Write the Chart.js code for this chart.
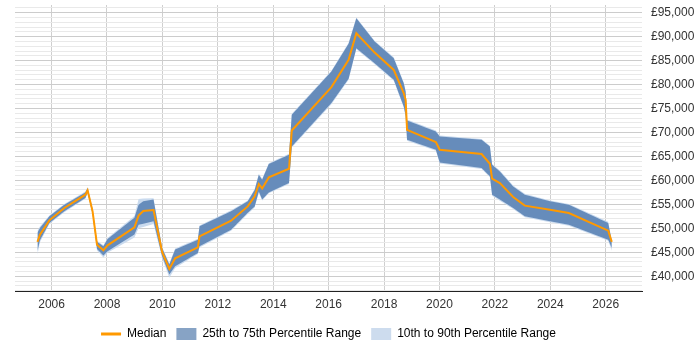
<!DOCTYPE html>
<html>
<head>
<meta charset="utf-8">
<script src="https://cdn.jsdelivr.net/npm/chart.js@4/dist/chart.umd.min.js"></script>
<style>
  html, body { margin: 0; padding: 0; background: #fff; }
  #wrap { width: 700px; height: 350px; }
</style>
</head>
<body>
<div id="wrap"><canvas id="chart"></canvas></div>
<script>
// decimal years of each sample
const years = [
  2005.49, 2005.58, 2005.92, 2006.46, 2007.22, 2007.30, 2007.48, 2007.64, 2007.87, 2008.02,
  2008.99, 2009.14, 2009.31, 2009.68, 2009.99, 2010.25, 2010.46, 2011.28, 2011.34, 2012.48,
  2013.08, 2013.33, 2013.48, 2013.60, 2013.84, 2014.57, 2014.67, 2016.10, 2016.72, 2017.00,
  2017.66, 2018.35, 2018.71, 2018.78, 2018.83, 2019.87, 2020.01, 2021.52, 2021.82, 2021.90,
  2022.18, 2022.66, 2023.08, 2023.99, 2024.67, 2026.09, 2026.22,
];
const median = [
  47170, 48690, 51670, 54250, 57020, 57920, 53540, 46600, 45420, 46460,
  50210, 52650, 53620, 53830, 45080, 41540, 43750, 46040, 48330, 51600,
  54580, 56670, 59250, 58330, 60630, 62440, 70420, 79460, 85150, 90710,
  86670, 83060, 78210, 76810, 70560, 68000, 66400, 65500, 63480, 60350,
  59460, 56540, 54730, 53900, 53200, 49520, 47170,
];
const p75 = [
  49100, 50080, 52500, 54940, 57500, 58400, 54000, 47200, 46250, 47790,
  52190, 54940, 55630, 56000, 45900, 42440, 45560, 47640, 50420, 53550,
  55630, 58020, 61190, 60150, 63420, 65350, 73690, 82710, 88500, 93830,
  88960, 85500, 80290, 78500, 72500, 70210, 69170, 68480, 67080, 63270,
  61880, 58750, 57020, 55630, 54940, 51125, 47290,
];
const p25 = [
  45200, 47500, 51125, 53550, 56330, 57500, 53000, 45700, 44310, 45200,
  48690, 50770, 50980, 51460, 44170, 40350, 42080, 44870, 46250, 49730,
  53230, 54580, 57710, 56000, 57500, 59460, 67080, 76130, 81200, 87580,
  84440, 80980, 75420, 73500, 68480, 66400, 63750, 62580, 60850, 57020,
  56000, 54250, 52500, 51460, 50770, 47640, 45900,
];
const p90 = [
  49500, 50400, 52700, 55100, 57700, 58600, 54200, 47400, 46450, 48000,
  52600, 56100, 56200, 56300, 46100, 42700, 45800, 47850, 50600, 53750,
  55830, 58220, 61400, 60350, 63600, 65550, 73900, 82900, 88700, 94000,
  89150, 85700, 80500, 78700, 72700, 70400, 69350, 68650, 67250, 63450,
  62050, 58950, 57200, 55800, 55100, 51350, 47500,
];
const p10 = [
  44500, 47100, 50900, 53350, 56150, 57300, 52800, 45400, 43900, 44900,
  48100, 50000, 50300, 50900, 43800, 39700, 41700, 44650, 46000, 49500,
  53000, 54350, 57500, 55800, 57300, 59250, 66850, 75900, 81000, 87350,
  84250, 80780, 75200, 73300, 68280, 66200, 63550, 62380, 60650, 56800,
  55780, 54050, 52300, 51260, 50550, 47400, 45300,
];
const xTickYears = [2006, 2008, 2010, 2012, 2014, 2016, 2018, 2020, 2022, 2024, 2026];
const legendNames = ["Median", "25th to 75th Percentile Range", "10th to 90th Percentile Range"];

const ORANGE = "#ff9900";
const BAND_DARK = "rgba(78,120,174,0.8)";
const BAND_LIGHT = "#c9daee";
const SWATCH_DARK = "#87a3c5";
const SWATCH_LIGHT = "#cddcee";

function points(values) {
  return years.map((x, i) => ({ x, y: values[i] }));
}

function band(values, color, fill) {
  return {
    data: points(values),
    backgroundColor: color,
    borderWidth: 0,
    pointRadius: 0,
    fill,
    tension: 0,
  };
}

// centre the legend under the plot area rather than the whole canvas
const legendUnderPlot = {
  id: "legendUnderPlot",
  afterLayout(chart) {
    if (chart.legend) {
      chart.legend.left = chart.chartArea.left;
      chart.legend.right = chart.chartArea.right;
    }
  },
};

Chart.defaults.font.family = "'Liberation Sans', Arial, sans-serif";
Chart.defaults.font.size = 12;
Chart.defaults.color = "#333";

new Chart(document.getElementById("chart"), {
  type: "line",
  data: {
    datasets: [
      { data: points(median), borderColor: ORANGE, borderWidth: 2, pointRadius: 0, fill: false, tension: 0 },
      band(p75, BAND_DARK, "+1"),
      band(p25, BAND_DARK, false),
      band(p90, BAND_LIGHT, "+1"),
      band(p10, BAND_LIGHT, false),
    ],
  },
  options: {
    responsive: true,
    maintainAspectRatio: false,
    animation: false,
    layout: { padding: { left: 15, right: 0, top: 5, bottom: 0 } },
    scales: {
      x: {
        type: "linear",
        min: 2004.68,
        max: 2027.31,
        afterBuildTicks(scale) {
          scale.ticks = xTickYears.map((value) => ({ value }));
        },
        grid: { color: "#cfcfcf", drawTicks: false },
        border: { color: "#222", width: 1 },
        ticks: { padding: 6, autoSkip: false, maxRotation: 0, callback: (v) => String(v) },
      },
      y: {
        position: "right",
        min: 36800,
        max: 96600,
        afterBuildTicks(scale) {
          const ticks = [];
          for (let v = 37000; v <= 96000; v += 1000) {
            ticks.push({ value: v });
          }
          scale.ticks = ticks;
        },
        afterFit(scale) {
          scale.width = 58;
          scale.paddingTop = 0;
          scale.paddingBottom = 0;
        },
        grid: {
          drawTicks: false,
          color: (ctx) => (ctx.tick && ctx.tick.value % 5000 === 0 ? "#cccccc" : "#e9e9e9"),
        },
        border: { display: false },
        ticks: {
          padding: 9,
          autoSkip: false,
          callback: (v) => (v % 5000 === 0 ? "£" + v.toLocaleString("en-GB") : ""),
        },
      },
    },
    plugins: {
      tooltip: { enabled: false },
      legend: {
        position: "bottom",
        labels: {
          usePointStyle: true,
          pointStyleWidth: 20,
          boxHeight: 12,
          padding: 10,
          color: "#222",
          generateLabels() {
            return [
              { text: legendNames[0], pointStyle: "line", strokeStyle: ORANGE, fillStyle: ORANGE, lineWidth: 3, datasetIndex: 0 },
              { text: legendNames[1], pointStyle: "rect", strokeStyle: SWATCH_DARK, fillStyle: SWATCH_DARK, lineWidth: 0, datasetIndex: 1 },
              { text: legendNames[2], pointStyle: "rect", strokeStyle: SWATCH_LIGHT, fillStyle: SWATCH_LIGHT, lineWidth: 0, datasetIndex: 3 },
            ];
          },
        },
        onClick() {},
      },
    },
  },
  plugins: [legendUnderPlot],
});
</script>
</body>
</html>
